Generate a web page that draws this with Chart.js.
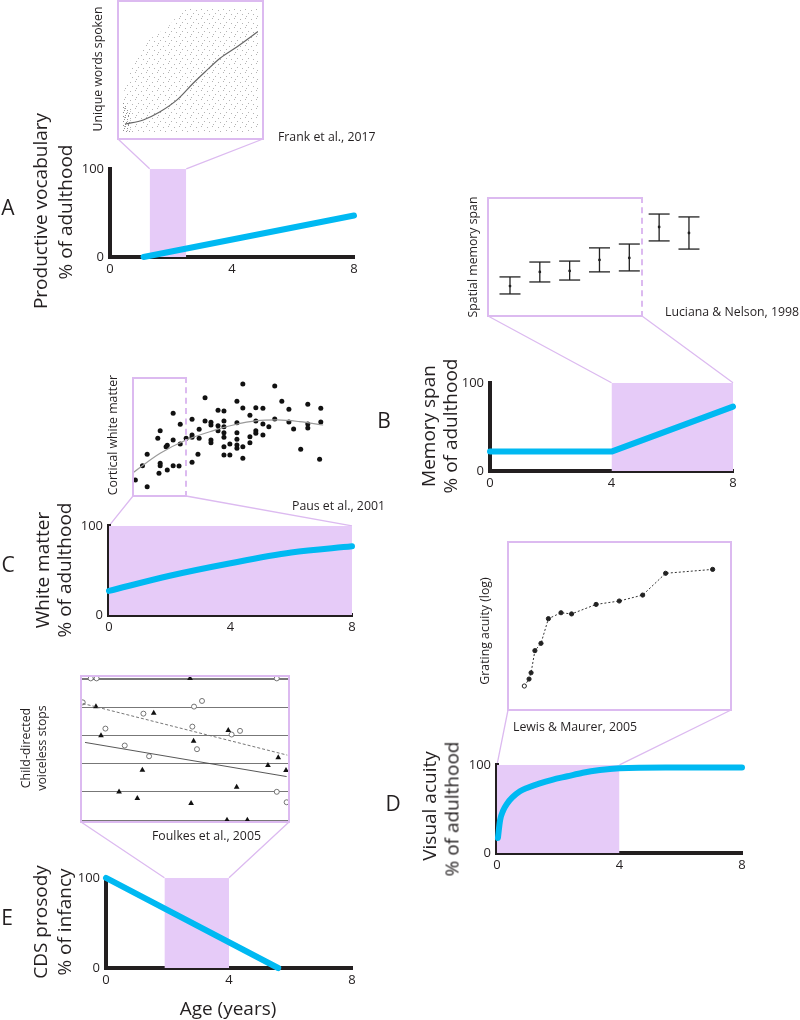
<!DOCTYPE html>
<html lang="en">
<head>
<meta charset="UTF-8" />
<title>Developmental windows</title>
<script src="https://cdn.jsdelivr.net/npm/chart.js"></script>
<style>
  html, body { margin: 0; padding: 0; background: #fff; }
  #page { position: relative; width: 800px; height: 1020px; overflow: hidden;
          font-family: 'Open Sans', sans-serif; color: #231f20; }
  #page canvas { position: absolute; }
  .txt { position: absolute; white-space: nowrap; line-height: 1; z-index: 3; }
  .rot { transform: translate(-50%, -50%) rotate(-90deg); }
  .ctr { transform: translate(-50%, -50%); }
  .lft { transform: translate(0, -50%); }
  .big { font-size: 19px; }
  .small { font-size: 12.3px; }
  .letter { font-size: 21px; }
  .box { position: absolute; border: 2px solid #dcbaf0; box-sizing: border-box; z-index: 2; }
  .dashr { border-right-style: dashed; }
</style>
</head>
<body>
<div id="page">
  <canvas id="links" width="800" height="1020" style="left:0;top:0;z-index:0"></canvas>

  <!-- panel letters -->
  <div class="txt letter ctr" style="left:8px;top:207px">A</div>
  <div class="txt letter ctr" style="left:384px;top:420px">B</div>
  <div class="txt letter ctr" style="left:8px;top:564px">C</div>
  <div class="txt letter ctr" style="left:393px;top:803px">D</div>
  <div class="txt letter ctr" style="left:7px;top:917px">E</div>

  <!-- main axis titles -->
  <div class="txt big rot" style="left:40px;top:211px">Productive vocabulary</div>
  <div class="txt big rot" style="left:65px;top:212px">% of adulthood</div>
  <div class="txt big rot" style="left:428px;top:426px">Memory span</div>
  <div class="txt big rot" style="left:450px;top:426px">% of adulthood</div>
  <div class="txt big rot" style="left:42px;top:570px">White matter</div>
  <div class="txt big rot" style="left:64px;top:570px">% of adulthood</div>
  <div class="txt big rot" style="left:429px;top:806px">Visual acuity</div>
  <div class="txt big rot" style="left:452px;top:809px">% of adulthood</div>
  <div class="txt big rot" style="left:40px;top:922px">CDS prosody</div>
  <div class="txt big rot" style="left:64px;top:922px">% of infancy</div>
  <div class="txt big ctr" style="left:228px;top:1008px">Age (years)</div>

  <!-- inset labels and sources -->
  <div class="txt small rot" style="left:98px;top:69px">Unique words spoken</div>
  <div class="txt small lft" style="left:278px;top:137px">Frank et al., 2017</div>
  <div class="txt small rot" style="left:473px;top:257px">Spatial memory span</div>
  <div class="txt small lft" style="left:665px;top:312px">Luciana &amp; Nelson, 1998</div>
  <div class="txt small rot" style="left:113px;top:435px">Cortical white matter</div>
  <div class="txt small lft" style="left:292px;top:506px">Paus et al., 2001</div>
  <div class="txt small rot" style="left:485px;top:631px">Grating acuity (log)</div>
  <div class="txt small lft" style="left:513px;top:727px">Lewis &amp; Maurer, 2005</div>
  <div class="txt small rot" style="left:26px;top:748px">Child-directed</div>
  <div class="txt small rot" style="left:42px;top:748px">voiceless stops</div>
  <div class="txt small lft" style="left:152px;top:836px">Foulkes et al., 2005</div>
</div>

<script>
  // ---- main panels: age (years) vs % of adult / infant level ----
  const ageTicks = [0, 4, 8];
  const pctTicks = [0, 100];

  const vocabAge = [1.1, 8];
  const vocabPct = [0, 47];
  const vocabWindow = [1.3, 2.5];

  const memoryAge = [0, 4, 8];
  const memoryPct = [22, 22, 73];
  const memoryWindow = [4, 8];

  const whiteAge = [0, 2, 4, 6, 8];
  const whitePct = [27, 44, 58, 70, 77];
  const whiteWindow = [0, 8];

  const acuityAge = [0.03, 0.1, 0.2, 0.33, 0.5, 0.75, 1.0, 1.4, 1.8, 2.3, 2.8, 3.36, 4, 5.5, 8];
  const acuityPct = [17, 37, 48, 56, 63, 70, 74, 79, 83, 87, 91, 94, 96, 97, 97];
  const acuityWindow = [0, 4];

  const cdsAge = [0, 5.6];
  const cdsPct = [100, 0];
  const cdsWindow = [1.9, 4];

  // ---- inset A: Frank et al. 2017 (age in months, words) ----
  const wordsFitMonth = [16.2, 18.1, 19.8, 21.6, 23.3, 24.5, 26.1, 27.8, 30];
  const wordsFit = [49, 71, 114, 180, 272, 332, 408, 468, 552];
  const wordsCloudMonth = [16, 16.5, 17.8, 19, 20.7, 22, 23, 30];
  const wordsCloudTop = [200, 300, 450, 520, 580, 660, 680, 680];
  const wordsDenseMonth = [16, 16.8];
  const wordsDenseTop = [170, 120];

  // ---- inset B: Luciana & Nelson 1998 (age group, span) ----
  const spanGroup = [1, 2, 3, 4, 5, 6, 7];
  const spanMean = [4.29, 4.88, 4.92, 5.38, 5.46, 6.75, 6.5];
  const spanHigh = [4.67, 5.29, 5.33, 5.88, 6.04, 7.29, 7.17];
  const spanLow = [3.96, 4.46, 4.54, 4.88, 4.92, 6.17, 5.83];

  // ---- inset C: Paus et al. 2001 (age in years, white matter) ----
  const pausAge = [4.2, 5.2, 4.8, 5.2, 6.1, 6.3, 6.2, 6.3, 6.3, 6.9, 6.8, 6.9, 7.4, 7.4, 7.4, 7.9, 8.0, 8.0,
    8.5, 9.0, 9.0, 9.0, 9.0, 9.5, 9.6, 9.6, 10.1, 10.1, 10.6, 10.6, 10.6, 10.6, 11.2, 11.2, 11.2,
    11.7, 11.7, 11.7, 11.7, 11.7, 11.7, 11.7, 12.2, 12.2, 12.8, 12.8, 12.8, 12.8, 12.8, 12.8,
    13.3, 13.3, 13.3, 13.3, 13.9, 13.9, 13.9, 14.4, 14.4, 14.4, 14.4, 15.0, 15.0, 15.0, 15.5,
    16.0, 16.0, 16.6, 17.2, 17.2, 17.6, 18.2, 18.8, 18.8, 18.8, 19.9, 19.9, 19.8];
  const pausWM = [14.2, 8.6, 26.1, 35.6, 48.9, 55.3, 19.7, 26.1, 28.1, 22.5, 41.9, 43.1, 26.1, 47.5, 69.7, 25.8, 44.2, 60.6,
    48.9, 64.7, 51.7, 49.7, 28.9, 35.6, 48.9, 56.4, 82.8, 63.3, 62.2, 60.0, 47.5, 45.3, 72.2, 59.4, 55.3,
    71.7, 63.3, 58.6, 53.6, 49.7, 41.9, 35.0, 44.2, 35.0, 79.7, 61.9, 53.6, 48.1, 43.3, 40.6,
    94.2, 74.2, 41.9, 32.2, 68.1, 50.3, 45.3, 74.4, 63.3, 55.3, 53.1, 73.9, 60.8, 51.7, 58.6,
    92.5, 65.0, 79.7, 73.1, 62.5, 56.7, 39.7, 77.2, 60.8, 57.5, 73.9, 62.5, 31.4];
  const pausFitAge = [4.0, 6.3, 8.5, 10.8, 12.5, 14.5, 16.2, 18.1, 20.1];
  const pausFit = [20.3, 36.4, 47.5, 55.3, 60.0, 63.6, 64.2, 62.8, 60.0];

  // ---- inset D: Lewis & Maurer 2005 ----
  const lewisAge = [0.77, 0.98, 1.07, 1.24, 1.51, 1.84, 2.40, 2.87, 3.96, 4.99, 6.03, 7.05, 9.14];
  const lewisAcuity = [1.47, 1.88, 2.25, 3.55, 3.98, 5.43, 5.78, 5.71, 6.27, 6.47, 6.82, 8.10, 8.33];

  // ---- inset E: Foulkes et al. 2005 ----
  const stopsLevels = [0, 1, 2, 3, 4, 5];
  const triAge = [5.24, 0.76, 3.51, 1.0, 7.06, 5.41, 9.44, 8.95, 9.81, 2.97, 7.46, 1.86, 2.73, 5.29, 7.0, 7.97];
  const triVal = [5.02, 4.02, 3.79, 2.99, 3.18, 2.80, 2.21, 1.94, 1.76, 1.77, 1.17, 1.0, 0.77, 0.59, 0, 0];
  const circAge = [0.51, 0.79, 9.37, 0.13, 5.81, 5.43, 3.02, 5.35, 1.21, 7.22, 7.62, 2.13, 5.57, 3.29, 9.37, 9.84];
  const circVal = [5.02, 5.02, 5.02, 4.17, 4.22, 4.02, 3.77, 3.31, 3.24, 3.03, 3.16, 2.64, 2.51, 2.26, 1.0, 0.63];
  const circFitAge = [0.13, 9.87];
  const circFit = [4.13, 2.30];
  const triFitAge = [0.24, 9.84];
  const triFit = [2.75, 1.54];

  // ---- styles and layout ----
  const INK = '#231f20';
  const BLUE = '#00b9f2';
  const BAND = '#e6cbf8';
  const FRAME = '#dcbaf0';
  const AXIS_W = 40, AXIS_H = 26, PAD_T = 12, PAD_R = 14;

  Chart.defaults.font.family = "'Open Sans', sans-serif";
  Chart.defaults.color = INK;

  const page = document.getElementById('page');
  const pts = (xs, ys) => xs.map((x, i) => ({ x: x, y: ys[i] }));

  function addCanvas(left, top, w, h) {
    const cv = document.createElement('canvas');
    cv.width = w;
    cv.height = h;
    cv.style.left = left + 'px';
    cv.style.top = top + 'px';
    cv.style.zIndex = 1;
    page.appendChild(cv);
    return cv;
  }

  function addBox(b) {
    const d = document.createElement('div');
    d.className = 'box' + (b.dashRight ? ' dashr' : '');
    d.style.left = b.x + 'px';
    d.style.top = b.y + 'px';
    d.style.width = b.w + 'px';
    d.style.height = b.h + 'px';
    page.appendChild(d);
  }

  const baseOpts = {
    responsive: false,
    animation: false,
    events: [],
    plugins: { legend: { display: false }, tooltip: { enabled: false } }
  };

  function mainChart(p, ages, pcts, win, smooth) {
    const cv = addCanvas(p.x0 - AXIS_W, p.y100 - PAD_T, p.w + AXIS_W + PAD_R, p.h + AXIS_H + PAD_T);
    const chart = new Chart(cv, {
      type: 'line',
      data: {
        datasets: [{
          data: pts(ages, pcts),
          borderColor: BLUE,
          borderWidth: 6,
          borderCapStyle: 'round',
          borderJoinStyle: 'round',
          pointRadius: 0,
          cubicInterpolationMode: smooth ? 'monotone' : 'default',
          fill: false,
          clip: 6,
          order: 0
        }, {
          data: win.map(a => ({ x: a, y: 100 })),
          borderColor: 'rgba(0,0,0,0)',
          borderWidth: 0,
          pointRadius: 0,
          fill: 'origin',
          backgroundColor: BAND,
          order: 1
        }]
      },
      options: Object.assign({}, baseOpts, {
        layout: { autoPadding: false, padding: { top: PAD_T, right: PAD_R, left: 0, bottom: 0 } },
        scales: {
          x: {
            type: 'linear', min: 0, max: 8,
            grid: { display: false, drawTicks: false },
            border: { display: true, color: INK, width: 4 },
            ticks: { font: { size: 13 }, padding: 4, maxRotation: 0, color: INK },
            afterBuildTicks: s => { s.ticks = ageTicks.map(v => ({ value: v })); },
            afterFit: s => { s.height = AXIS_H; }
          },
          y: {
            type: 'linear', min: 0, max: 100,
            grid: { display: false, drawTicks: false },
            border: { display: true, color: INK, width: 4 },
            ticks: { font: { size: 13 }, padding: 6, color: INK },
            afterBuildTicks: s => { s.ticks = pctTicks.map(v => ({ value: v })); },
            afterFit: s => { s.width = AXIS_W; }
          }
        }
      })
    });
    return { chart: chart, left: p.x0 - AXIS_W, top: p.y100 - PAD_T, win: win };
  }

  function insetChart(r, xr, yr, datasets, yAxis) {
    const cv = addCanvas(r.x, r.y, r.w, r.h);
    const y = Object.assign({ type: 'linear', min: yr[0], max: yr[1], display: false }, yAxis || {});
    return new Chart(cv, {
      type: 'scatter',
      data: { datasets: datasets },
      options: Object.assign({}, baseOpts, {
        layout: { autoPadding: false, padding: 0 },
        scales: {
          x: { type: 'linear', min: xr[0], max: xr[1], display: false },
          y: y
        }
      })
    });
  }

  function speckle(color, dots) {
    const c = document.createElement('canvas');
    c.width = 11;
    c.height = 9;
    const g = c.getContext('2d');
    g.fillStyle = color;
    dots.forEach(d => g.fillRect(d[0], d[1], 1, 1));
    return g.createPattern(c, 'repeat');
  }

  // main panels
  const panels = [
    { box: { x: 117, y: 0, w: 147, h: 140 }, m: mainChart({ x0: 110, y100: 167, w: 244, h: 90 }, vocabAge, vocabPct, vocabWindow, false) },
    { box: { x: 487, y: 197, w: 156, h: 120, dashRight: true }, m: mainChart({ x0: 490, y100: 381, w: 243, h: 90 }, memoryAge, memoryPct, memoryWindow, false) },
    { box: { x: 132, y: 377, w: 55, h: 120, dashRight: true }, m: mainChart({ x0: 109, y100: 524, w: 243, h: 91 }, whiteAge, whitePct, whiteWindow, true) },
    { box: { x: 507, y: 541, w: 225, h: 170 }, m: mainChart({ x0: 497, y100: 763, w: 245, h: 90 }, acuityAge, acuityPct, acuityWindow, true) },
    { box: { x: 80, y: 675, w: 210, h: 148 }, m: mainChart({ x0: 106, y100: 876, w: 246, h: 92 }, cdsAge, cdsPct, cdsWindow, false) }
  ];

  // inset A: vocabulary cloud and fitted curve
  insetChart({ x: 123, y: 8, w: 135, h: 125 }, [16, 30], [0, 680], [
    { data: pts(wordsFitMonth, wordsFit), showLine: true, borderColor: '#666', borderWidth: 1.2,
      pointRadius: 0, cubicInterpolationMode: 'monotone', fill: false, order: 0 },
    { data: pts(wordsDenseMonth, wordsDenseTop), showLine: true, borderWidth: 0, borderColor: 'rgba(0,0,0,0)',
      pointRadius: 0, fill: 'origin',
      backgroundColor: speckle('#909090', [[0, 0], [2, 1], [5, 0], [8, 1], [1, 3], [4, 3], [7, 4], [10, 3], [0, 5], [3, 6], [6, 6], [9, 7], [2, 8], [5, 8]]), order: 1 },
    { data: pts(wordsCloudMonth, wordsCloudTop), showLine: true, borderWidth: 0, borderColor: 'rgba(0,0,0,0)',
      pointRadius: 0, fill: 'origin', tension: 0.3,
      backgroundColor: speckle('#b4b4b4', [[1, 1], [7, 2], [4, 5], [9, 6], [2, 8]]), order: 2 }
  ]);

  // inset B: error bars
  const stems = [];
  spanGroup.forEach((g, i) => {
    stems.push({ x: g, y: spanLow[i] }, { x: g, y: spanHigh[i] }, { x: g, y: null });
  });
  insetChart({ x: 487, y: 197, w: 213, h: 120 }, [0.229, 7.37], [3, 8], [
    { data: pts(spanGroup, spanMean), pointRadius: 1.4, pointBackgroundColor: '#222', pointBorderWidth: 0 },
    { data: stems, showLine: true, spanGaps: false, borderColor: '#222', borderWidth: 1.3, pointRadius: 0 },
    { data: pts(spanGroup, spanHigh).concat(pts(spanGroup, spanLow)), pointStyle: 'line',
      pointRadius: 10.5, borderColor: '#222', pointBorderColor: '#222', pointBorderWidth: 1.3 }
  ]);

  // inset C: white matter scatter
  insetChart({ x: 133, y: 377, w: 197, h: 120 }, [4, 20.68], [0, 100], [
    { data: pts(pausFitAge, pausFit), showLine: true, borderColor: '#9a9a9a', borderWidth: 1.2,
      pointRadius: 0, cubicInterpolationMode: 'monotone', order: 0 },
    { data: pts(pausAge, pausWM), pointRadius: 2.5, pointBackgroundColor: '#111', pointBorderWidth: 0, clip: false, order: 1 }
  ], {
    display: true,
    grid: { display: false, drawTicks: false },
    border: { display: true, color: '#9a9a9a', width: 1 },
    ticks: { display: false },
    afterFit: s => { s.width = 0; }
  });

  // inset D: grating acuity
  insetChart({ x: 507, y: 541, w: 225, h: 170 }, [0, 10], [0, 10], [
    { data: pts(lewisAge, lewisAcuity), showLine: true, borderColor: '#333', borderWidth: 1,
      borderDash: [2, 2], pointRadius: 2.1,
      pointBackgroundColor: c => (c.dataIndex === 0 ? '#fff' : '#222'),
      pointBorderColor: '#222', pointBorderWidth: 1 }
  ]);

  // inset E: voiceless stops
  insetChart({ x: 80, y: 675, w: 210, h: 148 }, [0, 10], [-0.106, 5.14], [
    { data: pts(circFitAge, circFit), showLine: true, borderColor: '#666', borderWidth: 0.9,
      borderDash: [3, 2], pointRadius: 0 },
    { data: pts(triFitAge, triFit), showLine: true, borderColor: '#444', borderWidth: 0.9, pointRadius: 0 },
    { data: pts(triAge, triVal), pointStyle: 'triangle', pointRadius: 3.3,
      pointBackgroundColor: '#111', pointBorderWidth: 0, clip: false },
    { data: pts(circAge, circVal), pointStyle: 'circle', pointRadius: 2.5,
      pointBackgroundColor: '#fff', pointBorderColor: '#666', pointBorderWidth: 0.9, clip: false }
  ], {
    display: true,
    grid: { color: '#777', lineWidth: c => (c.tick && c.tick.value === 5 ? 2 : 1), drawTicks: false },
    border: { display: false },
    ticks: { display: false },
    afterBuildTicks: s => { s.ticks = stopsLevels.map(v => ({ value: v })); },
    afterFit: s => { s.width = 0; }
  });

  // inset frames and zoom connectors
  const lg = document.getElementById('links').getContext('2d');
  lg.strokeStyle = FRAME;
  lg.lineWidth = 1.3;
  panels.forEach(p => {
    addBox(p.box);
    const ch = p.m.chart;
    const top = p.m.top + ch.scales.y.getPixelForValue(100);
    const x1 = p.m.left + ch.scales.x.getPixelForValue(p.m.win[0]);
    const x2 = p.m.left + ch.scales.x.getPixelForValue(p.m.win[1]);
    const by = p.box.y + p.box.h - 1;
    lg.beginPath();
    lg.moveTo(p.box.x + 1, by);
    lg.lineTo(x1, top);
    lg.moveTo(p.box.x + p.box.w - 1, by);
    lg.lineTo(x2, top);
    lg.stroke();
  });
</script>
</body>
</html>
